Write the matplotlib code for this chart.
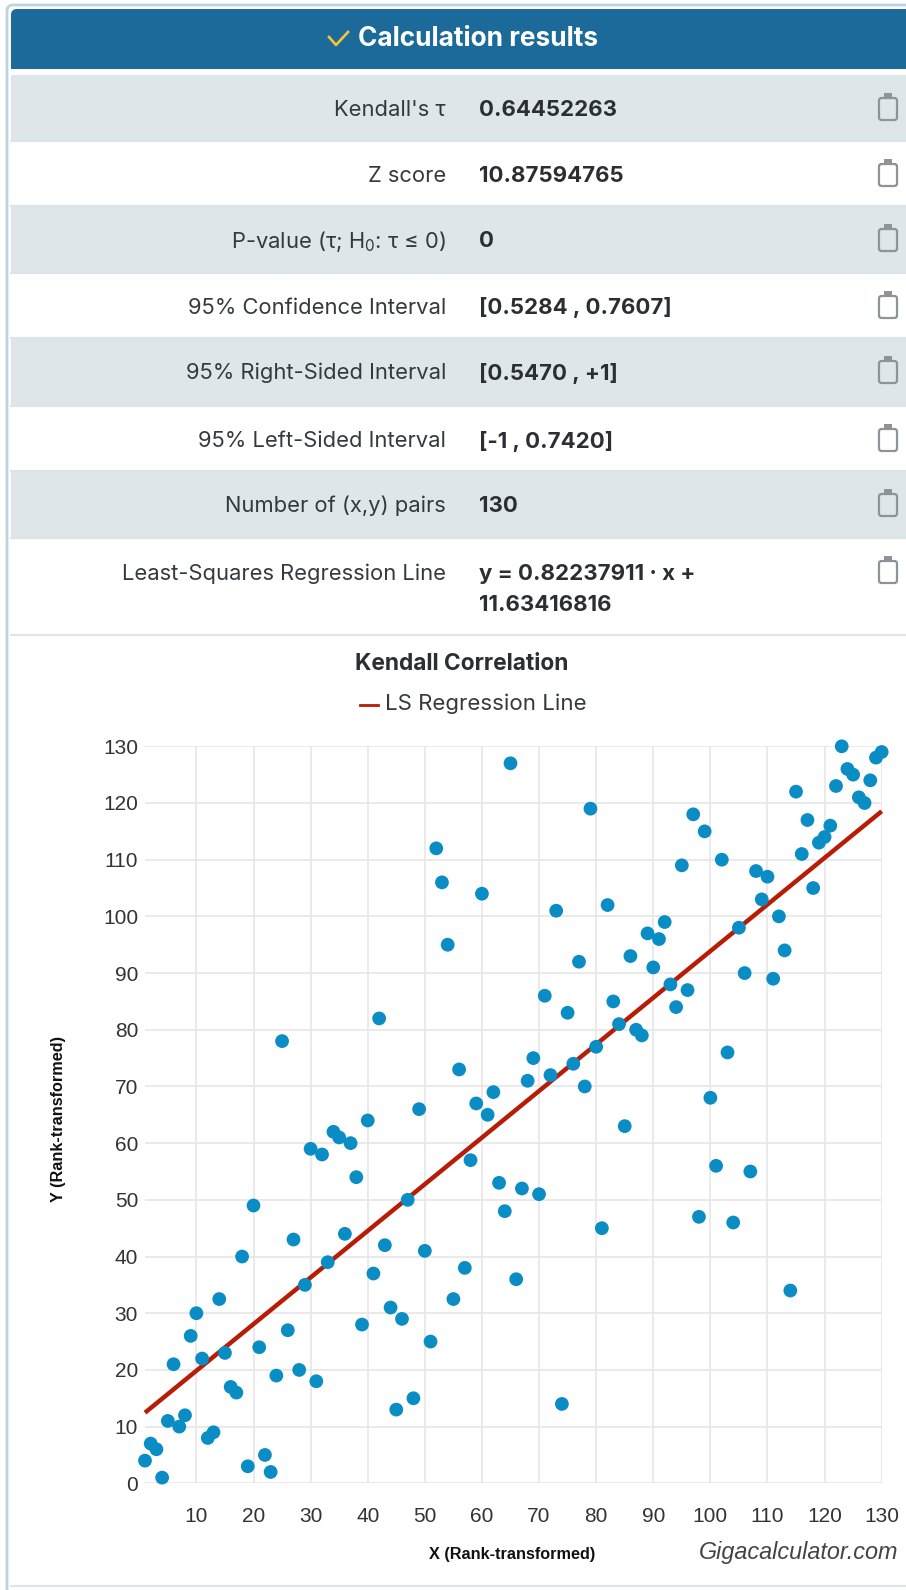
import matplotlib
matplotlib.use("Agg")
import matplotlib.pyplot as plt
from matplotlib.patches import Rectangle, FancyBboxPatch

W, H = 906, 1590

row_labels = ["Kendall's τ", "Z score", "P-value (τ; H$_{0}$: τ ≤ 0)", "95% Confidence Interval",
              "95% Right-Sided Interval", "95% Left-Sided Interval", "Number of (x,y) pairs",
              "Least-Squares Regression Line"]
row_values = ["0.64452263", "10.87594765", "0", "[0.5284 , 0.7607]",
              "[0.5470 , +1]", "[-1 , 0.7420]", "130", "y = 0.82237911 · x +\n11.63416816"]
row_edges = [75, 141, 206, 273, 338, 406, 471, 538, 635]

x_rank = list(range(1, 131))
y_rank = [4, 7, 6, 1, 11, 21, 10, 12, 26, 30,
          22, 8, 9, 32.5, 23, 17, 16, 40, 3, 49,
          24, 5, 2, 19, 78, 27, 43, 20, 35, 59,
          18, 58, 39, 62, 61, 44, 60, 54, 28, 64,
          37, 82, 42, 31, 13, 29, 50, 15, 66, 41,
          25, 112, 106, 95, 32.5, 73, 38, 57, 67, 104,
          65, 69, 53, 48, 127, 36, 52, 71, 75, 51,
          86, 72, 101, 14, 83, 74, 92, 70, 119, 77,
          45, 102, 85, 81, 63, 93, 80, 79, 97, 91,
          96, 99, 88, 84, 109, 87, 118, 47, 115, 68,
          56, 110, 76, 46, 98, 90, 55, 108, 103, 107,
          89, 100, 94, 34, 122, 111, 117, 105, 113, 114,
          116, 123, 130, 126, 125, 121, 120, 124, 128, 129]
line_x = [1, 130]
line_y = [12.45654727, 118.54356246]
x_ticks = [10, 20, 30, 40, 50, 60, 70, 80, 90, 100, 110, 120, 130]
y_ticks = [0, 10, 20, 30, 40, 50, 60, 70, 80, 90, 100, 110, 120, 130]

plt.rcParams["font.family"] = ["Inter", "DejaVu Sans"]
plt.rcParams["mathtext.fontset"] = "custom"
plt.rcParams["mathtext.rm"] = "Inter"

fig = plt.figure(figsize=(W / 100, H / 100), dpi=100, facecolor="white")

# page chrome, in pixels
bg = fig.add_axes([0, 0, 1, 1])
bg.set_xlim(0, W)
bg.set_ylim(H, 0)
bg.axis("off")

bg.add_patch(FancyBboxPatch((7, 5), 1000, 2000, boxstyle="round,pad=0,rounding_size=6",
                            fc="white", ec="#bcd4e2", lw=2))
bg.add_patch(FancyBboxPatch((11, 9), 1000, 60, boxstyle="round,pad=0,rounding_size=6",
                            fc="#1b6a99", ec="none"))
bg.add_patch(Rectangle((11, 40), W, 29, fc="#1b6a99", ec="none"))
bg.plot([329, 336, 348], [37, 45, 32], color="#f4c63d", lw=1.9)
bg.text(358, 39, "Calculation results", color="white", fontsize=18.9, fontweight="bold",
        ha="left", va="center")

for i in range(len(row_labels)):
    top, bot = row_edges[i], row_edges[i + 1]
    if i % 2 == 0:
        bg.add_patch(Rectangle((11, top), W, bot - top, fc="#dee6e9", ec="none"))
    bg.plot([11, W], [bot, bot], color="#dde5e9", lw=1.6)
    y = top + 33
    if i == 7:
        y = top + 34
    bg.text(446, y, row_labels[i], color="#333a3f", fontsize=15.8, ha="right", va="center_baseline")
    if i == 7:
        bg.text(479, top + 34, "y = 0.82237911 · x +", color="#2b2f33", fontsize=16, fontweight="bold", va="center_baseline")
        bg.text(479, top + 65, "11.63416816", color="#2b2f33", fontsize=16, fontweight="bold", va="center_baseline")
    else:
        bg.text(479, y, row_values[i], color="#2b2f33", fontsize=16, fontweight="bold", va="center_baseline")
    # clipboard icon
    bg.add_patch(FancyBboxPatch((879, top + 23), 18, 22, boxstyle="round,pad=0,rounding_size=2.5",
                                fc="none", ec="#8d9396", lw=1.6))
    bg.add_patch(Rectangle((884, top + 18), 8, 6, fc="#8d9396", ec="none"))

bg.plot([11, W], [1586, 1586], color="#dde5e9", lw=1.6)

bg.text(462, 664, "Kendall Correlation", color="#2b2f33", fontsize=16.4, fontweight="bold", ha="center", va="center")
bg.plot([360, 378], [705, 705], color="#b81c05", lw=2)
bg.text(385, 704, "LS Regression Line", color="#333a3f", fontsize=16, ha="left", va="center")
bg.text(512, 1555, "X (Rank-transformed)", color="#111111", fontsize=11.7, fontweight="bold",
        family=["Liberation Sans"], ha="center", va="center")
bg.text(59, 1119, "Y (Rank-transformed)", color="#111111", fontsize=11.7, fontweight="bold",
        family=["Liberation Sans"], rotation=90, ha="center", va="center")
bg.text(898, 1553, "Gigacalculator.com", color="#444444", fontsize=16.8, style="italic",
        family=["Liberation Sans"], ha="right", va="center")

# plot area: x=1 at 145px, x=130 at 881.7px; y=0 at 1483.3px, y=130 at 746.3px
left, right, top, bottom = 145.0, 881.7, 746.3, 1483.3
ax = fig.add_axes([left / W, 1 - bottom / H, (right - left) / W, (bottom - top) / H])
ax.patch.set_alpha(0)
ax.set_xlim(1, 130)
ax.set_ylim(0, 130)
ax.set_xticks(x_ticks)
ax.set_yticks(y_ticks)
ax.grid(True, color="#e8e8e8", lw=1.3)
ax.set_axisbelow(True)
for s in ax.spines.values():
    s.set_visible(False)
ax.tick_params(length=0, labelsize=15, labelcolor="#333333")
for lab in ax.get_xticklabels() + ax.get_yticklabels():
    lab.set_fontfamily(["Liberation Sans"])
ax.tick_params(axis="x", pad=17)
ax.tick_params(axis="y", pad=5)

ax.plot(line_x, line_y, color="#b81c05", lw=3.2, zorder=3, solid_capstyle="butt", clip_on=False)
ax.scatter(x_rank, y_rank, s=98, color="#0a8cc4", edgecolors="none", zorder=4, clip_on=False)

fig.savefig("out.png", dpi=100)
